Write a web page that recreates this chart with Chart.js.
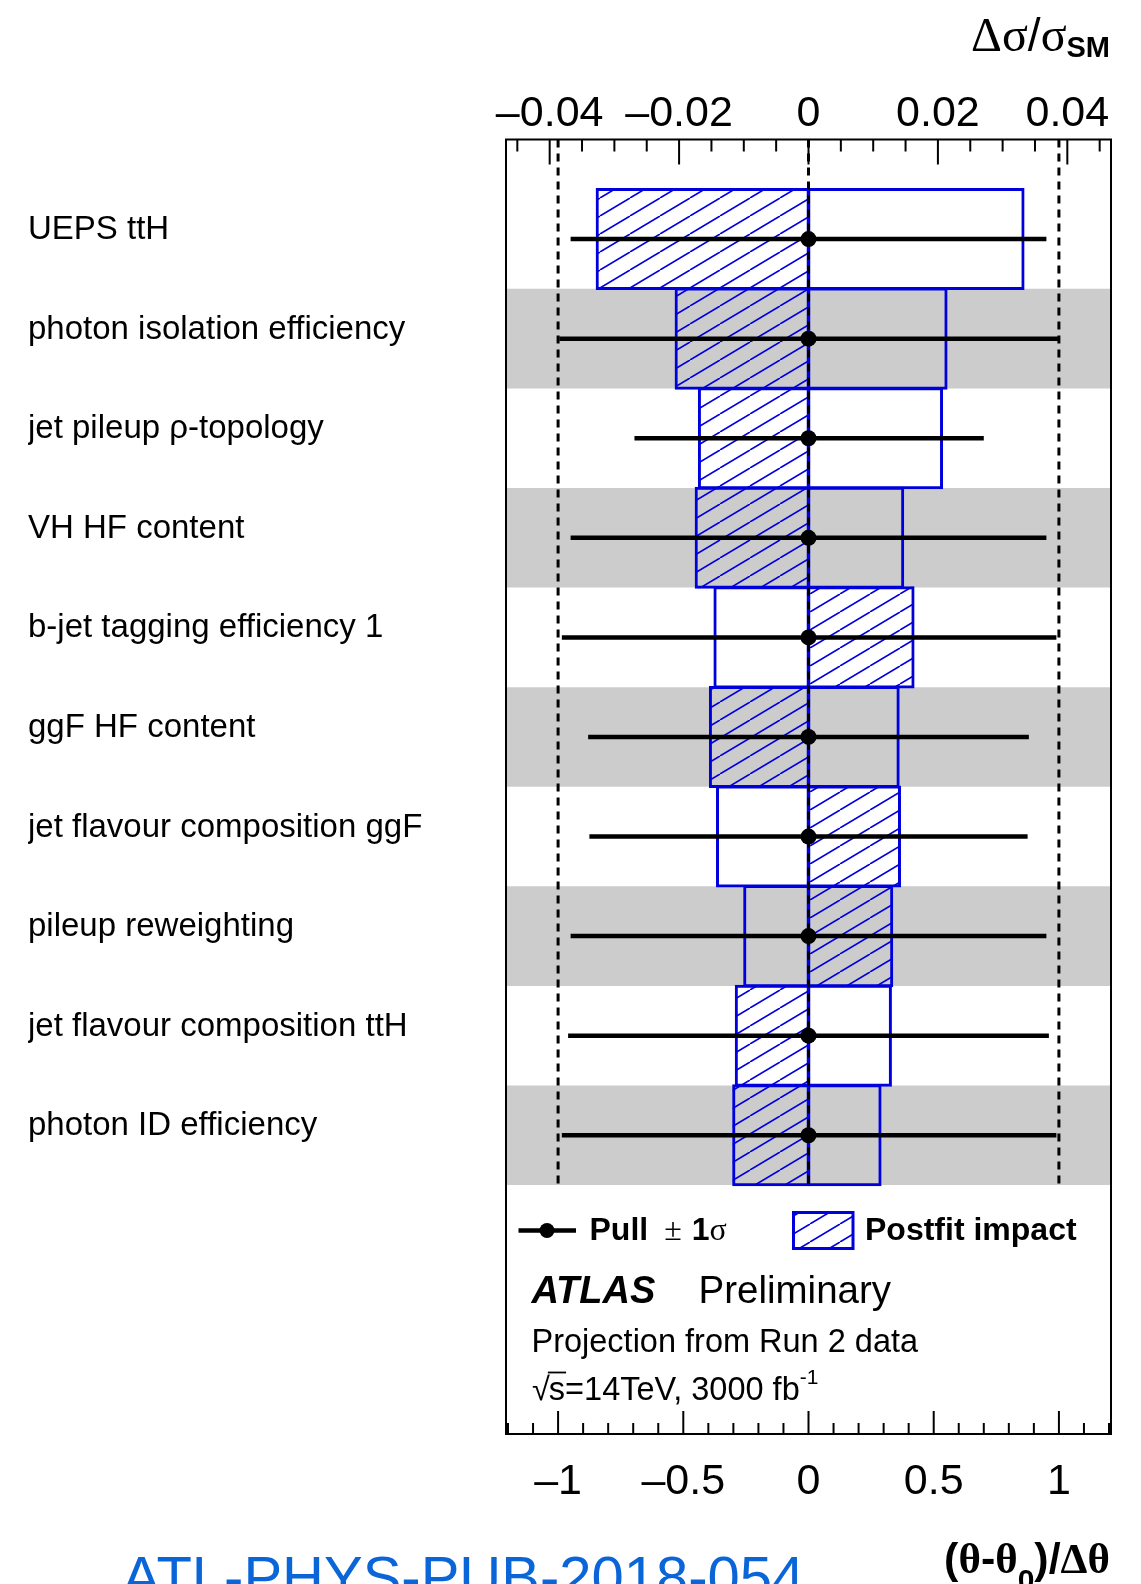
<!DOCTYPE html>
<html>
<head>
<meta charset="utf-8">
<script src="https://cdn.jsdelivr.net/npm/chart.js@4.4.0/dist/chart.umd.min.js"></script>
<style>
html,body{margin:0;padding:0;background:#fff;overflow:hidden}
#wrap{position:relative;width:1141px;height:1584px}
</style>
</head>
<body>
<div id="wrap"><canvas id="c"></canvas></div>
<script>
// ---------------- data ----------------
const categories = [
  "UEPS ttH",
  "photon isolation efficiency",
  "jet pileup \u03c1-topology",
  "VH HF content",
  "b-jet tagging efficiency 1",
  "ggF HF content",
  "jet flavour composition ggF",
  "pileup reweighting",
  "jet flavour composition ttH",
  "photon ID efficiency"
];
const pullValues   = [0, 0, 0, 0, 0, 0, 0, 0, 0, 0];
const pullErrLow   = [-0.95, -0.995, -0.695, -0.95, -0.985, -0.88, -0.875, -0.95, -0.96, -0.985];
const pullErrHigh  = [ 0.95,  1.0,    0.70,   0.95,  0.99,   0.88,  0.875,  0.95,  0.96,  0.99];
const impactHatched = [-0.0327, -0.0205, -0.0169, -0.0174,  0.0162, -0.0152,  0.0141,  0.0129, -0.0112, -0.0116];
const impactOpen    = [ 0.0332,  0.0213,  0.0206,  0.0146, -0.0145,  0.0139, -0.0141, -0.0099,  0.0127,  0.0111];
const shadedRows = [1, 3, 5, 7, 9];
const referenceLines = [-1, 0, 1];
const pullTicks = [-1, -0.5, 0, 0.5, 1];
const pullTickLabels = ["\u20131", "\u20130.5", "0", "0.5", "1"];
const pullMinorStep = 0.1;
const impactTicks = [-0.04, -0.02, 0, 0.02, 0.04];
const impactTickLabels = ["\u20130.04", "\u20130.02", "0", "0.02", "0.04"];
const impactMinorStep = 0.005;
const pullRange = [-1.208, 1.208];
const impactRange = [-0.04675, 0.04675];
const rowRange = [-1, 12];

// ---------------- styles ----------------
const SANS = '"Liberation Sans", Arial, Helvetica, sans-serif';
const SERIF = '"Liberation Serif", "Times New Roman", serif';
const BLUE = '#0000dd';

function makeHatch(color) {
  const w = 30, h = 18;
  const c = document.createElement('canvas');
  c.width = w; c.height = h;
  const g = c.getContext('2d');
  g.strokeStyle = color; g.lineWidth = 1.6;
  g.beginPath();
  for (const dx of [-w, 0, w]) { g.moveTo(dx, h); g.lineTo(dx + w, 0); }
  g.stroke();
  return g.createPattern(c, 'repeat');
}
const hatch = makeHatch(BLUE);

function labelFor(vals, labels, v) {
  for (let i = 0; i < vals.length; i++) if (Math.abs(vals[i] - v) < 1e-9) return labels[i];
  return '';
}

const lastRowEdge = categories.length - 0.5;
const barCommon = {
  type: 'bar', indexAxis: 'y', yAxisID: 'y', grouped: false,
  barPercentage: 1, categoryPercentage: 1, borderSkipped: false
};

const datasets = [
  Object.assign({}, barCommon, {
    label: 'bands', xAxisID: 'x', order: 10,
    data: shadedRows.map(r => ({x: [pullRange[0], pullRange[1]], y: r})),
    backgroundColor: '#cccccc', borderWidth: 0, inflateAmount: 0
  }),
  Object.assign({}, barCommon, {
    label: 'Postfit impact', xAxisID: 'x2', order: 8,
    data: impactHatched.map((v, i) => ({x: [Math.min(0, v), Math.max(0, v)], y: i})),
    backgroundColor: hatch, borderColor: BLUE, borderWidth: 0.5, inflateAmount: 1.25
  }),
  Object.assign({}, barCommon, {
    label: 'Postfit impact (opposite)', xAxisID: 'x2', order: 8,
    data: impactOpen.map((v, i) => ({x: [Math.min(0, v), Math.max(0, v)], y: i})),
    backgroundColor: 'rgba(0,0,0,0)', borderColor: BLUE, borderWidth: 0.5, inflateAmount: 1.25
  }),
  {
    type: 'scatter', label: 'reference', xAxisID: 'x', yAxisID: 'y', order: 6,
    showLine: true, spanGaps: false,
    data: referenceLines.flatMap(v => [{x: v, y: rowRange[0]}, {x: v, y: lastRowEdge}, {x: null, y: null}]),
    borderColor: '#000', borderWidth: 3, borderDash: [8, 6], pointRadius: 0, pointHoverRadius: 0
  },
  Object.assign({}, barCommon, {
    label: 'Pull \u00b1 1\u03c3 (bars)', xAxisID: 'x', order: 4,
    data: pullValues.map((p, i) => ({x: [p + pullErrLow[i], p + pullErrHigh[i]], y: i})),
    backgroundColor: '#000', borderWidth: 0, inflateAmount: 0, maxBarThickness: 4.5
  }),
  {
    type: 'scatter', label: 'Pull', xAxisID: 'x', yAxisID: 'y', order: 2,
    data: pullValues.map((p, i) => ({x: p, y: i})),
    backgroundColor: '#000', borderWidth: 0, pointRadius: 8, pointHoverRadius: 8
  }
];

function drawRuns(ctx, runs, x, y, align) {
  let total = 0;
  for (const r of runs) { ctx.font = r.font; r.w = ctx.measureText(r.t).width + (r.gap || 0); total += r.w; }
  let cx = align === 'right' ? x - total : x;
  for (const r of runs) {
    ctx.font = r.font;
    ctx.fillStyle = r.color || '#000';
    ctx.fillText(r.t, cx, y + (r.dy || 0));
    cx += r.w;
  }
  return cx;
}

const decor = {
  id: 'decor',
  afterDraw(chart) {
    const ctx = chart.ctx, a = chart.chartArea;
    const sx = chart.scales.x, sx2 = chart.scales.x2;
    ctx.save();
    ctx.strokeStyle = '#000';
    ctx.lineWidth = 2;
    // bottom ticks (pull axis)
    const kb0 = Math.ceil(sx.min / pullMinorStep - 1e-9), kb1 = Math.floor(sx.max / pullMinorStep + 1e-9);
    for (let k = kb0; k <= kb1; k++) {
      const v = k * pullMinorStep;
      const major = pullTicks.some(t => Math.abs(t - v) < 1e-9);
      const px = sx.getPixelForValue(v);
      ctx.beginPath(); ctx.moveTo(px, a.bottom); ctx.lineTo(px, a.bottom - (major ? 23 : 11)); ctx.stroke();
    }
    // top ticks (impact axis)
    const kt0 = Math.ceil(sx2.min / impactMinorStep - 1e-9), kt1 = Math.floor(sx2.max / impactMinorStep + 1e-9);
    for (let k = kt0; k <= kt1; k++) {
      const v = k * impactMinorStep;
      const major = impactTicks.some(t => Math.abs(t - v) < 1e-9);
      const px = sx2.getPixelForValue(v);
      ctx.beginPath(); ctx.moveTo(px, a.top); ctx.lineTo(px, a.top + (major ? 25 : 12)); ctx.stroke();
    }
    // frame
    ctx.strokeRect(a.left, a.top, a.right - a.left, a.bottom - a.top);

    ctx.textBaseline = 'alphabetic';
    ctx.textAlign = 'left';
    // axis titles
    drawRuns(ctx, [
      {t: '\u0394\u03c3', font: '48px ' + SERIF},
      {t: '/', font: '46px ' + SANS},
      {t: '\u03c3', font: '48px ' + SERIF},
      {t: 'SM', font: 'bold 29px ' + SANS, dy: 6}
    ], 1110, 51, 'right');
    drawRuns(ctx, [
      {t: '(', font: 'bold 43px ' + SANS},
      {t: '\u03b8', font: 'bold 43px ' + SERIF},
      {t: '-', font: 'bold 43px ' + SANS},
      {t: '\u03b8', font: 'bold 43px ' + SERIF},
      {t: '0', font: 'bold 30px ' + SANS, dy: 17},
      {t: ')/', font: 'bold 43px ' + SANS},
      {t: '\u0394\u03b8', font: 'bold 43px ' + SERIF}
    ], 1110, 1573, 'right');

    // legend: pull
    const pullBars = chart.data.datasets[4], pullDots = chart.data.datasets[5];
    const ly = 1230.5;
    ctx.strokeStyle = pullBars.backgroundColor;
    ctx.lineWidth = pullBars.maxBarThickness;
    ctx.beginPath(); ctx.moveTo(518.5, ly); ctx.lineTo(576, ly); ctx.stroke();
    ctx.fillStyle = pullDots.backgroundColor;
    ctx.beginPath(); ctx.arc(547, ly, pullDots.pointRadius - 0.5, 0, Math.PI * 2); ctx.fill();
    drawRuns(ctx, [
      {t: 'Pull', font: 'bold 32px ' + SANS, gap: 16},
      {t: '\u00b1', font: '32px ' + SERIF, gap: 10},
      {t: '1', font: 'bold 32px ' + SANS},
      {t: '\u03c3', font: '32px ' + SERIF}
    ], 589.5, 1240, 'left');
    // legend: postfit impact
    const hd = chart.data.datasets[1];
    ctx.fillStyle = hd.backgroundColor;
    ctx.fillRect(793.5, 1212.5, 59.5, 36);
    ctx.strokeStyle = hd.borderColor; ctx.lineWidth = 3;
    ctx.strokeRect(793.5, 1212.5, 59.5, 36);
    drawRuns(ctx, [{t: 'Postfit impact', font: 'bold 32px ' + SANS}], 865, 1240, 'left');

    // ATLAS label
    drawRuns(ctx, [{t: 'ATLAS', font: 'italic bold 38px ' + SANS}], 531.5, 1303, 'left');
    drawRuns(ctx, [{t: 'Preliminary', font: '38.5px ' + SANS}], 698.5, 1303, 'left');
    drawRuns(ctx, [{t: 'Projection from Run 2 data', font: '32.5px ' + SANS}], 531.5, 1352, 'left');
    // sqrt(s) line
    ctx.font = '32.5px ' + SANS;
    ctx.fillStyle = '#000';
    ctx.fillText('\u221a', 532, 1400);
    const rw = ctx.measureText('\u221a').width;
    const sStart = 532 + rw - 1;
    const sW = ctx.measureText('s').width;
    ctx.fillText('s', sStart, 1400);
    ctx.strokeStyle = '#000'; ctx.lineWidth = 1.8;
    ctx.beginPath(); ctx.moveTo(sStart - 1, 1372.5); ctx.lineTo(sStart + sW + 1, 1372.5); ctx.stroke();
    drawRuns(ctx, [
      {t: '=14TeV, 3000 fb', font: '32.5px ' + SANS},
      {t: '-1', font: '21px ' + SANS, dy: -16}
    ], sStart + sW, 1400, 'left');

    // reference note
    drawRuns(ctx, [{t: 'ATL-PHYS-PUB-2018-054', font: '58px ' + SANS, color: '#0a66d8'}], 122, 1597, 'left');
    ctx.restore();
  }
};

new Chart(document.getElementById('c'), {
  type: 'bar',
  data: {datasets},
  options: {
    responsive: true,
    maintainAspectRatio: false,
    animation: false,
    devicePixelRatio: 1,
    events: [],
    layout: {padding: {left: 28, right: 30, top: 0, bottom: 0}},
    plugins: {legend: {display: false}, tooltip: {enabled: false}},
    scales: {
      x: {
        type: 'linear', axis: 'x', position: 'bottom', min: pullRange[0], max: pullRange[1],
        offset: false, grid: {display: false, drawTicks: false, offset: false}, border: {display: false},
        afterBuildTicks: s => { s.ticks = pullTicks.map(v => ({value: v})); },
        afterFit: s => { s.height = 150; },
        ticks: {
          autoSkip: false, maxRotation: 0, minRotation: 0, padding: 27, color: '#000',
          font: {family: SANS, size: 43, lineHeight: 1},
          callback: v => labelFor(pullTicks, pullTickLabels, v)
        }
      },
      x2: {
        type: 'linear', axis: 'x', position: 'top', min: impactRange[0], max: impactRange[1],
        offset: false, grid: {display: false, drawTicks: false, offset: false}, border: {display: false},
        afterBuildTicks: s => { s.ticks = impactTicks.map(v => ({value: v})); },
        afterFit: s => { s.height = 139.5; },
        ticks: {
          autoSkip: false, maxRotation: 0, minRotation: 0, padding: 4, color: '#000',
          font: {family: SANS, size: 43, lineHeight: 1},
          callback: v => labelFor(impactTicks, impactTickLabels, v)
        }
      },
      y: {
        type: 'linear', axis: 'y', position: 'left', min: rowRange[0], max: rowRange[1], reverse: true,
        offset: false, beginAtZero: false,
        grid: {display: false, drawTicks: false, offset: false}, border: {display: false},
        afterBuildTicks: s => { s.ticks = categories.map((_, i) => ({value: i})); },
        afterFit: s => { s.width = 478; },
        ticks: {
          autoSkip: false, crossAlign: 'far', padding: 0, color: '#000',
          font: {family: SANS, size: 33, lineHeight: 0.55},
          callback: v => [categories[Math.round(v)], '']
        }
      }
    }
  },
  plugins: [decor]
});
</script>
</body>
</html>
